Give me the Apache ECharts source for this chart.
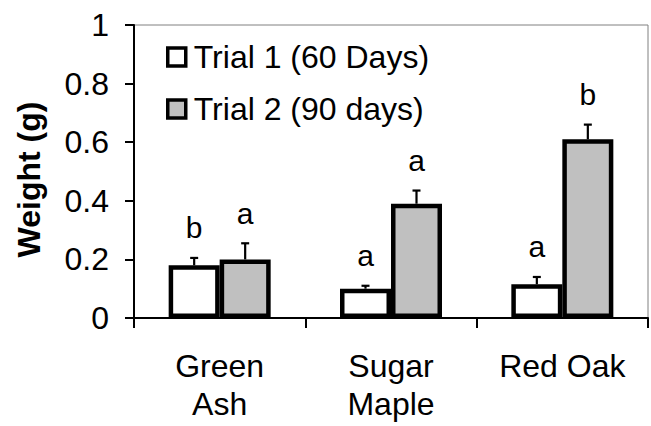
<!DOCTYPE html>
<html>
<head>
<meta charset="utf-8">
<script src="https://cdn.jsdelivr.net/npm/echarts@6/dist/echarts.min.js"></script>
<style>html,body{margin:0;padding:0;background:#fff}#c{width:651px;height:426px}</style>
</head>
<body>
<div id="c"></div>
<script>
const categories = ['Green\nAsh', 'Sugar\nMaple', 'Red Oak'];
const seriesNames = ['Trial 1 (60 Days)', 'Trial 2 (90 days)'];
const trial1 = [0.18, 0.10, 0.115];
const trial2 = [0.20, 0.39, 0.61];
const trial1Err = [0.025, 0.01, 0.025];
const trial2Err = [0.055, 0.045, 0.05];
const trial1Letters = ['b', 'a', 'a'];
const trial2Letters = ['a', 'a', 'b'];
const yTicks = [0, 0.2, 0.4, 0.6, 0.8, 1];

const FONT = 'Liberation Sans, Arial, sans-serif';
const BAR_W = 51;

function errSeries(vals, errs, letters, side) {
  return {
    type: 'custom',
    z: 10,
    silent: true,
    data: vals.map((v, i) => [i, v, errs[i]]),
    renderItem: function (params, api) {
      const i = api.value(0);
      const v = api.value(1);
      const e = api.value(2);
      const letter = letters[params.dataIndex];
      const base = api.coord([i, v]);
      const top = api.coord([i, v + e]);
      const x = base[0] + side * BAR_W / 2;
      return {
        type: 'group',
        children: [
          { type: 'line', shape: { x1: x, y1: base[1], x2: x, y2: top[1] }, style: { stroke: '#000', lineWidth: 2.2 } },
          { type: 'line', shape: { x1: x - 4, y1: top[1], x2: x + 4, y2: top[1] }, style: { stroke: '#000', lineWidth: 2.2 } },
          { type: 'text', x: x, y: top[1] - 30, style: { text: letter, font: '30px ' + FONT, fill: '#000', align: 'center', verticalAlign: 'middle' } }
        ]
      };
    }
  };
}

const chart = echarts.init(document.getElementById('c'), null, { renderer: 'svg' });
chart.setOption({
  animation: false,
  backgroundColor: '#fff',
  textStyle: { fontFamily: FONT },
  grid: { left: 134, right: 3, top: 25, bottom: 108, show: true, borderColor: '#808080', borderWidth: 1, backgroundColor: 'transparent' },
  legend: {
    data: seriesNames,
    orient: 'vertical',
    left: 161,
    top: 36,
    itemWidth: 18,
    itemHeight: 18,
    itemGap: 20,
    icon: 'rect',
    itemStyle: { borderWidth: 3.5, borderColor: '#000' },
    textStyle: { fontSize: 32, color: '#000', fontFamily: FONT, padding: [0, 0, 0, 3] },
    selectedMode: false
  },
  xAxis: {
    type: 'category',
    data: categories,
    axisLine: { lineStyle: { color: '#000', width: 2 } },
    axisTick: { show: true, length: 10, lineStyle: { color: '#000', width: 2 } },
    axisLabel: { fontSize: 32, color: '#000', fontFamily: FONT, margin: 29, lineHeight: 38 },
    z: 20
  },
  yAxis: {
    type: 'value',
    min: 0,
    max: 1,
    interval: 0.2,
    axisLine: { show: true, lineStyle: { color: '#000', width: 2 } },
    axisTick: { show: true, length: 9, lineStyle: { color: '#000', width: 2 } },
    splitLine: { show: false },
    axisLabel: {
      fontSize: 32, color: '#000', fontFamily: FONT, margin: 25,
      formatter: v => { const t = yTicks.find(k => Math.abs(k - v) < 1e-9); return String(t !== undefined ? t : v); }
    },
    name: 'Weight (g)',
    nameLocation: 'middle',
    nameGap: 89,
    nameRotate: 90,
    nameTextStyle: { fontSize: 32, fontWeight: 'bold', color: '#000', fontFamily: FONT, padding: [0, 16, 0, 0] },
    z: 20
  },
  series: [
    {
      name: seriesNames[0], type: 'bar', data: trial1, barWidth: BAR_W, barGap: '0%',
      itemStyle: { color: '#ffffff', borderColor: '#000', borderWidth: 4.5 }
    },
    {
      name: seriesNames[1], type: 'bar', data: trial2, barWidth: BAR_W, barGap: '0%',
      itemStyle: { color: '#c0c0c0', borderColor: '#000', borderWidth: 4.5 }
    },
    errSeries(trial1, trial1Err, trial1Letters, -1),
    errSeries(trial2, trial2Err, trial2Letters, 1)
  ]
});
</script>
</body>
</html>
